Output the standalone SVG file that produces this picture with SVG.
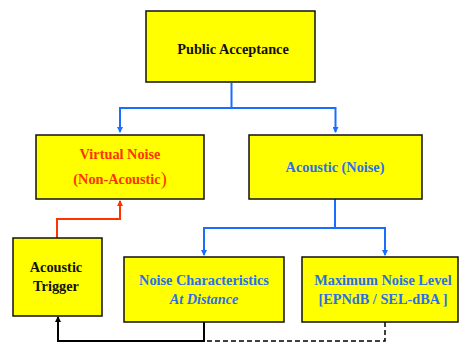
<svg xmlns="http://www.w3.org/2000/svg" width="459" height="343" viewBox="0 0 459 343">
<style>
.box{fill:#ffff00;stroke:#111;stroke-width:1.5}
.t{font-family:"Liberation Serif","Times New Roman",serif;font-weight:bold;font-size:14.3px;text-anchor:middle}
.k{fill:#111}
.b{fill:#2a6fe8}
.r{fill:#ff3300}
.cb{fill:none;stroke:#1a6eff;stroke-width:2}
.cr{fill:none;stroke:#ff3300;stroke-width:2}
.ck{fill:none;stroke:#000;stroke-width:2}
.cd{fill:none;stroke:#000;stroke-width:1.5;stroke-dasharray:5,3}
</style>
<defs>
<marker id="ab" markerWidth="6" markerHeight="6" refX="5" refY="3" orient="auto" markerUnits="userSpaceOnUse"><path d="M0,0 L6,3 L0,6 z" fill="#1a6eff"/></marker>
<marker id="ar" markerWidth="6" markerHeight="6" refX="5" refY="3" orient="auto" markerUnits="userSpaceOnUse"><path d="M0,0 L6,3 L0,6 z" fill="#ff3300"/></marker>
<marker id="ak" markerWidth="6" markerHeight="6" refX="5" refY="3" orient="auto" markerUnits="userSpaceOnUse"><path d="M0,0 L6,3 L0,6 z" fill="#000"/></marker>
</defs>
<g id="connectors">
<path class="cb" d="M231.5,83 V108 H120 V132" marker-end="url(#ab)"/>
<path class="cb" d="M231.5,108 H335.5 V132" marker-end="url(#ab)"/>
<path class="cb" d="M335,199 V228 H204 V255" marker-end="url(#ab)"/>
<path class="cb" d="M335,228 H385 V255" marker-end="url(#ab)"/>
<path class="cr" d="M57,238 V219 H120 V201" marker-end="url(#ar)"/>
<path class="ck" d="M204,322 V341 H58 V317" marker-end="url(#ak)"/>
<path class="cd" d="M385,322 V341 H204"/>
</g>
<g id="public-acceptance">
<rect class="box" x="146" y="11" width="169" height="71"/>
<text class="t k" x="233" y="54">Public Acceptance</text>
</g>
<g id="virtual-noise">
<rect class="box" x="36" y="135" width="168" height="64"/>
<text class="t r" x="120" y="159">Virtual Noise</text>
<text class="t r" x="120" y="184">(Non-Acoustic<tspan font-size="18" font-weight="normal" dy="1">)</tspan></text>
</g>
<g id="acoustic-noise">
<rect class="box" x="249" y="135" width="173" height="64"/>
<text class="t b" x="335" y="172">Acoustic (Noise)</text>
</g>
<g id="acoustic-trigger">
<rect class="box" x="13" y="238" width="89" height="78"/>
<text class="t k" x="56" y="272">Acoustic</text>
<text class="t k" x="56" y="291">Trigger</text>
</g>
<g id="noise-characteristics">
<rect class="box" x="124" y="257" width="160" height="65"/>
<text class="t b" x="204" y="285">Noise Characteristics</text>
<text class="t b" x="204" y="304" font-style="italic">At Distance</text>
</g>
<g id="maximum-noise-level">
<rect class="box" x="302" y="257" width="156" height="65"/>
<text class="t b" x="383" y="285">Maximum Noise Level</text>
<text class="t b" x="383" y="304">[EPNdB / SEL-dBA ]</text>
</g>
</svg>
